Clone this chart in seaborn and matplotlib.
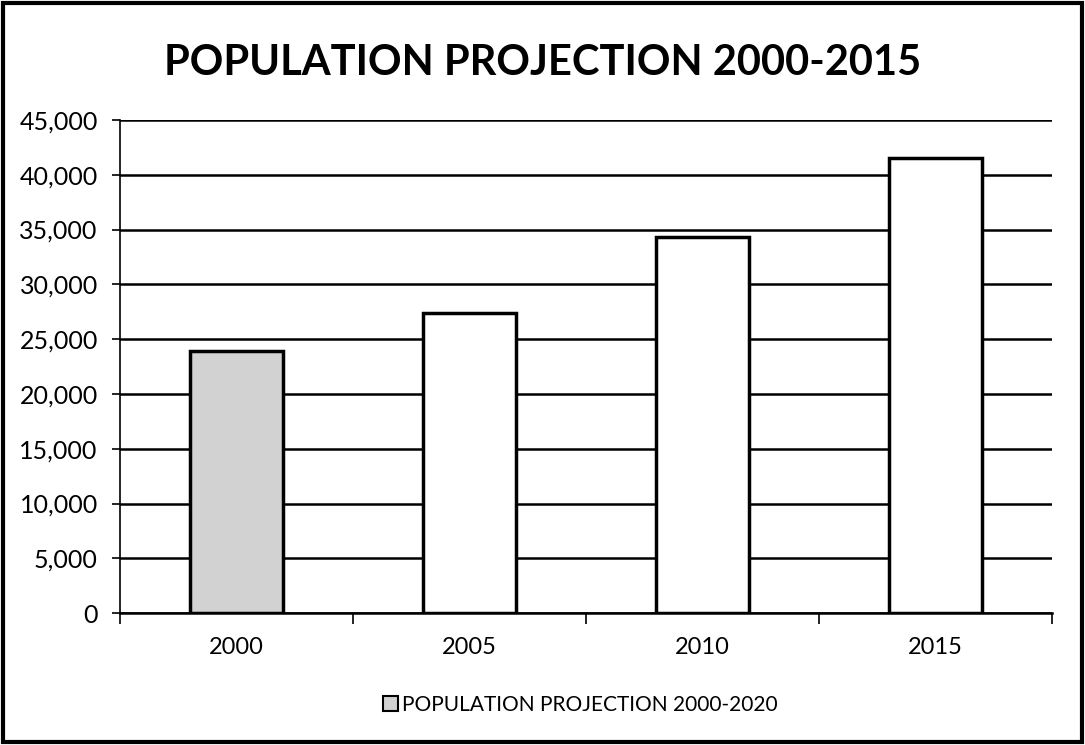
import matplotlib
matplotlib.use("Agg")
import matplotlib.pyplot as plt
import seaborn as sns
import pandas as pd
from matplotlib.patches import Patch
from matplotlib.ticker import FuncFormatter, FixedLocator

years = ["2000", "2005", "2010", "2015"]
population = [23900, 27400, 34300, 41500]
bar_colors = ["#d2d2d2", "#ffffff", "#ffffff", "#ffffff"]
title = "POPULATION PROJECTION 2000-2015"
legend_label = "POPULATION PROJECTION 2000-2020"

sns.set_theme(style="white")
plt.rcParams["font.family"] = ["Lato", "DejaVu Sans"]

df = pd.DataFrame({"year": years, "population": population})

fig = plt.figure(figsize=(10.85, 7.45), dpi=100)
ax = fig.add_axes([0.1106, 0.177, 0.859, 0.662])

sns.barplot(data=df, x="year", y="population", hue="year", palette=bar_colors,
            legend=False, width=0.4, edgecolor="black", linewidth=2.5, ax=ax,
            saturation=1, zorder=3)

ax.set_ylim(0, 45000)
ax.set_xlim(-0.5, 3.5)
ax.set_yticks(range(0, 45001, 5000))
ax.yaxis.set_major_formatter(FuncFormatter(lambda v, p: f"{int(v):,}"))
ax.grid(axis="y", color="black", linewidth=1.8, zorder=0)
ax.set_axisbelow(True)

for s in ["top", "right"]:
    ax.spines[s].set_visible(False)
ax.spines["left"].set_color("black")
ax.spines["left"].set_linewidth(1.2)
ax.spines["bottom"].set_color("black")
ax.spines["bottom"].set_linewidth(1.8)

ax.tick_params(axis="y", which="major", left=True, length=6, width=1.2,
               color="black", labelsize=18, labelcolor="black", pad=10)
ax.tick_params(axis="x", which="major", length=0, labelsize=17,
               labelcolor="black", pad=17)
ax.xaxis.set_minor_locator(FixedLocator([-0.5, 0.5, 1.5, 2.5, 3.5]))
ax.tick_params(axis="x", which="minor", bottom=True, length=8, width=1.2,
               color="black")
ax.set_xlabel("")
ax.set_ylabel("")

fig.text(0.5, 0.915, title, ha="center", va="center", fontsize=30,
         fontweight="bold", color="black")

handle = Patch(facecolor="#d2d2d2", edgecolor="black", linewidth=1.5)
fig.legend([handle], [legend_label], loc="center", bbox_to_anchor=(0.535, 0.054),
           frameon=False, fontsize=15, handlelength=0.7, handleheight=0.7,
           handletextpad=0.2, labelcolor="black")

border = plt.Rectangle((0.003, 0.004), 0.994, 0.992, transform=fig.transFigure,
                       fill=False, edgecolor="black", linewidth=3)
fig.add_artist(border)

fig.savefig("out.png", dpi=100, facecolor="white")
